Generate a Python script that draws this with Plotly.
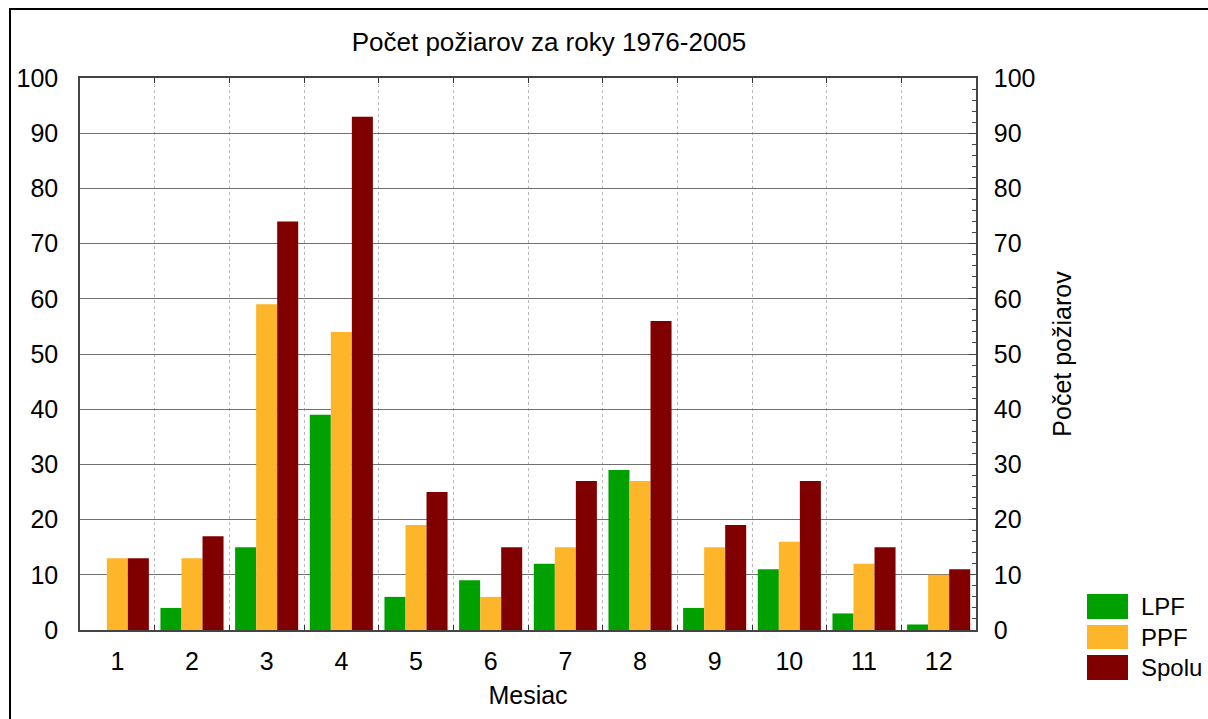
import plotly.graph_objects as go

months = ["1", "2", "3", "4", "5", "6", "7", "8", "9", "10", "11", "12"]
lpf = [0, 4, 15, 39, 6, 9, 12, 29, 4, 11, 3, 1]
ppf = [13, 13, 59, 54, 19, 6, 15, 27, 15, 16, 12, 10]
spolu = [13, 17, 74, 93, 25, 15, 27, 56, 19, 27, 15, 11]
series_names = ["LPF", "PPF", "Spolu"]
colors = ["#00A000", "#FDB52A", "#800000"]

W, H = 1208, 719
L, R, T, B = 80, 976, 78, 630
FONT = "Liberation Sans, Arial, sans-serif"


def px(x):
    return (x - L) / (R - L)


def py(y):
    return (B - y) / (B - T)


fig = go.Figure()
for name, vals, c in zip(series_names, [lpf, ppf, spolu], colors):
    fig.add_trace(go.Bar(x=months, y=vals, name=name, marker=dict(color=c, line=dict(width=0)),
                         showlegend=False))

# invisible trace to activate right axis
fig.add_trace(go.Scatter(x=months, y=spolu, yaxis="y2", mode="markers",
                         marker=dict(opacity=0), hoverinfo="skip", showlegend=False))

shapes = []
# outer frame
shapes.append(dict(type="rect", xref="paper", yref="paper", x0=px(10), x1=px(1215), y0=py(725), y1=py(9),
                   line=dict(color="black", width=2), fillcolor="rgba(0,0,0,0)", layer="below"))
annotations = []
sw = [(594, 619), (625, 649), (655, 680)]
for (y0, y1), c, name in zip(sw, colors, series_names):
    shapes.append(dict(type="rect", xref="paper", yref="paper", x0=px(1087), x1=px(1128), y0=py(y1), y1=py(y0),
                       fillcolor=c, line=dict(width=0)))
    annotations.append(dict(xref="paper", yref="paper", x=px(1139), y=py((y0 + y1) / 2), text=name,
                            showarrow=False, xanchor="left", yanchor="middle",
                            font=dict(family=FONT, size=24, color="black")))

fig.update_layout(
    width=W, height=H,
    margin=dict(l=L, r=W - R, t=T, b=H - B, autoexpand=False),
    paper_bgcolor="white", plot_bgcolor="white",
    barmode="group", bargap=0.155, bargroupgap=0,
    font=dict(family=FONT, size=24, color="black"),
    title=dict(text="Počet požiarov za roky 1976-2005", x=px(549), xref="paper", xanchor="center",
               y=1 - 42 / H, yref="container", yanchor="middle", font=dict(family=FONT, size=26)),
    xaxis=dict(type="category", range=[-0.5, 11.5], tickson="boundaries", showgrid=True, gridcolor="#b8b8b8",
               griddash="dot", gridwidth=1, ticks="inside", ticklen=5, tickcolor="#333", showline=True,
               linecolor="#444", linewidth=1.5, mirror="ticks", tickfont=dict(size=25),
               ticklabelstandoff=8,
               title=dict(text="Mesiac", font=dict(size=25), standoff=13)),
    yaxis=dict(range=[0, 100], dtick=10, showgrid=True, gridcolor="#707070", gridwidth=1.2,
               showline=True, linecolor="#444", linewidth=1.5, ticks="", ticklabelstandoff=15,
               tickfont=dict(size=25), zeroline=False),
    yaxis2=dict(range=[0, 100], dtick=10, overlaying="y", side="right", showgrid=False, zeroline=False,
                showline=True, linecolor="#444", linewidth=1.5, ticks="inside", ticklen=7, tickcolor="#444",
                minor=dict(ticks="inside", dtick=2, ticklen=4, tickcolor="#444"),
                ticklabelstandoff=11, tickfont=dict(size=25),
                title=dict(text="Počet požiarov", font=dict(size=25), standoff=19)),
    shapes=shapes, annotations=annotations,
)

fig.write_html("out.html", config={"displayModeBar": False},
               post_script="document.body.style.margin='0px';")
